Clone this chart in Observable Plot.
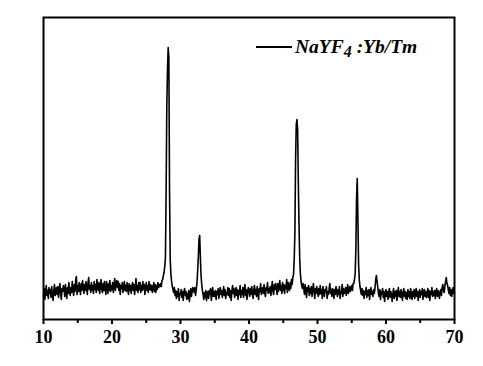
<!DOCTYPE html>
<html>
<head>
<meta charset="utf-8">
<script src="https://cdn.jsdelivr.net/npm/d3@7"></script>
<script src="https://cdn.jsdelivr.net/npm/@observablehq/plot@0.6"></script>
<style>
  html, body { margin: 0; padding: 0; background: #fff; }
  #chart { width: 483px; height: 366px; }
</style>
</head>
<body>
<div id="chart"></div>
<script>
// 2θ sampling: start and step (degrees)
const thetaStart = 10;
const thetaStep = 0.1;
// Intensity (a.u.), one row per degree (10.0 … 10.9, 11.0 … 11.9, …), last value at 70.0
const intensity = [
  23,31,20,28,34,24,29,21,32,26,
  30,22,33,25,19,29,35,24,27,32,
  25,33,22,30,36,26,20,31,28,34,
  31,23,35,27,21,32,26,37,29,24,
  32,27,38,30,24,35,28,39,43,25,
  34,28,37,31,25,36,29,39,33,26,
  35,29,38,32,25,37,42,30,34,27,
  37,29,34,26,38,30,35,27,40,32,
  29,37,26,34,40,30,27,36,29,38,
  31,25,38,33,26,36,29,39,28,34,
  30,37,27,34,41,29,36,39,32,38,
  29,36,25,34,31,37,27,32,38,29,
  34,28,37,31,25,36,29,34,26,33,
  37,29,35,25,32,41,29,34,27,37,
  30,37,27,34,29,38,30,35,25,32,
  37,29,34,27,38,30,35,29,34,27,
  32,37,28,35,27,34,30,37,32,35,
  33,36,33,39,40,44,47,53,62,128,
  212,250,272,262,129,60,45,38,33,30,
  27,32,24,29,21,28,23,31,19,26,
  25,30,22,28,19,27,31,24,28,20,
  26,21,29,18,25,31,23,28,32,29,
  27,32,24,30,36,48,62,80,84,62,
  44,35,29,25,20,27,22,29,19,26,
  28,21,29,25,31,19,26,32,23,28,
  23,29,20,28,25,31,21,26,32,25,
  29,22,27,33,24,30,21,27,25,32,
  24,31,22,29,19,28,34,26,31,22,
  27,32,24,30,20,29,25,34,22,29,
  25,32,22,29,35,24,30,20,27,32,
  28,23,31,25,33,26,21,30,34,25,
  30,23,33,26,20,31,28,36,25,30,
  32,26,35,27,23,32,29,37,26,31,
  27,33,24,32,38,28,25,35,30,36,
  31,25,36,28,33,39,29,34,26,37,
  29,35,26,34,31,40,27,37,32,29,
  37,31,40,35,42,45,60,87,160,195,
  200,190,137,95,62,46,38,34,31,36,
  31,25,35,29,22,32,28,34,24,31,
  26,33,23,29,36,28,21,31,26,33,
  28,23,31,25,34,26,30,21,33,28,
  23,30,27,33,21,28,25,31,36,26,
  30,23,31,27,21,30,25,33,28,23,
  30,25,33,21,28,26,35,23,31,26,
  27,32,24,29,35,26,30,33,28,32,
  34,29,36,36,40,46,70,120,141,100,
  55,40,33,29,25,31,24,29,21,28,
  25,32,22,29,24,30,20,27,32,25,
  28,23,30,26,32,40,44,38,32,26,
  23,30,20,28,25,31,22,28,18,26,
  30,23,28,20,27,31,22,28,25,18,
  26,31,21,28,23,29,19,26,32,23,
  28,22,30,25,19,27,31,23,28,21,
  27,20,30,23,28,21,31,25,20,28,
  23,30,21,26,31,23,28,19,26,30,
  22,28,25,31,20,27,30,23,28,22,
  26,31,22,29,19,28,25,32,23,28,
  24,29,21,28,31,23,29,26,21,28,
  30,24,32,35,29,27,34,38,42,36,
  34,30,26,32,24,30,23,28,32,26,
  26
];
const majorTicks = [10, 20, 30, 40, 50, 60, 70];
const minorTicks = [15, 25, 35, 45, 55, 65];
const seriesName = "NaYF";
const seriesSub = "4";
const seriesRest = " :Yb/Tm";

const data = intensity.map((v, i) => ({theta: +(thetaStart + i * thetaStep).toFixed(2), value: v}));

const font = "'Liberation Serif', 'Times New Roman', serif";

const plot = Plot.plot({
  width: 483,
  height: 366,
  marginLeft: 43,
  marginRight: 29,
  marginTop: 17,
  marginBottom: 47,
  style: {fontFamily: font, fontSize: "18px", fontWeight: "bold", color: "#000", background: "#fff"},
  x: {domain: [10, 70], label: null},
  y: {domain: [0, 302], axis: null},
  marks: [
    Plot.line(data, {x: "theta", y: "value", stroke: "#000", strokeWidth: 1.6}),
    Plot.axisX({ticks: minorTicks, tickSize: 4, text: null, strokeWidth: 2, label: null}),
    Plot.axisX({ticks: majorTicks, tickSize: 5, tickPadding: 6, tickFormat: d => String(d), strokeWidth: 2, fontWeight: "bold", fontSize: 18, label: null}),
    Plot.frame({stroke: "#000", strokeWidth: 2})
  ]
});

document.getElementById("chart").appendChild(plot);

// Legend (inside the frame, top right)
const svg = d3.select(plot);
const lg = svg.append("g").attr("class", "legend").attr("text-anchor", "start");
lg.append("line")
  .attr("x1", 256).attr("x2", 292).attr("y1", 47).attr("y2", 47)
  .attr("stroke", "#000").attr("stroke-width", 2);
const t = lg.append("text")
  .attr("x", 295).attr("y", 53)
  .attr("text-anchor", "start")
  .style("font-family", font)
  .style("font-size", "19.5px")
  .style("font-weight", "bold")
  .style("font-style", "italic")
  .attr("fill", "#000");
t.append("tspan").text(seriesName);
t.append("tspan").attr("dy", 4).style("font-size", "16px").text(seriesSub);
t.append("tspan").attr("dy", -4).text(seriesRest);
</script>
</body>
</html>
